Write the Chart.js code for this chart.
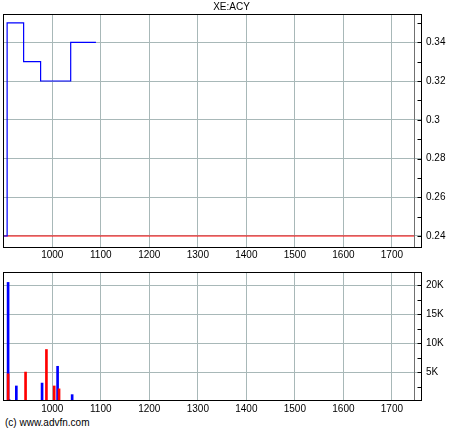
<!DOCTYPE html>
<html>
<head>
<meta charset="utf-8">
<script src="https://cdn.jsdelivr.net/npm/chart.js@4.4.0/dist/chart.umd.min.js"></script>
<style>
  body { margin: 0; background: #fff; width: 460px; height: 430px; position: relative; overflow: hidden; font-family: "Liberation Sans", Arial, sans-serif; }
  #price { position: absolute; left: 0; top: 0; }
  #vol { position: absolute; left: 0; top: 262px; }
  #copy { position: absolute; left: 5px; top: 417px; font-size: 10px; line-height: 12px; color: #000; }
</style>
</head>
<body>
<canvas id="price" width="460" height="262"></canvas>
<canvas id="vol" width="460" height="154"></canvas>
<div id="copy">(c) www.advfn.com</div>
<script>
const title = 'XE:ACY';
const xMin = 898.5, xMax = 1762;
const xTicks = [1000, 1100, 1200, 1300, 1400, 1500, 1600, 1700];
const todayX = 1746;

// price panel
const priceDates = [899, 907, 941, 976, 1038, 1090];
const priceValues = [0.24, 0.35, 0.33, 0.32, 0.34, 0.34];
const refDates = [898.5, 1746];
const refValues = [0.24, 0.24];
const priceTicks = [0.24, 0.26, 0.28, 0.3, 0.32, 0.34];
const priceTickLabels = ['0.24', '0.26', '0.28', '0.3', '0.32', '0.34'];
const priceMinor = [0.25, 0.27, 0.29, 0.31, 0.33, 0.35];

// volume panel
const volBlueDates = [909, 911, 926, 979, 1011, 1041];
const volBlueValues = [20500, 250, 2600, 3100, 6000, 1100];
const volRedDates = [909, 945, 988, 1004, 1014];
const volRedValues = [4700, 5000, 8900, 2600, 2100];
const volTicks = [5000, 10000, 15000, 20000];
const volTickLabels = ['5K', '10K', '15K', '20K'];
const volMinor = [2500, 7500, 12500, 17500];

const gridColor = 'rgb(168,184,184)';
const font = { family: '"Liberation Sans", Arial, sans-serif', size: 10, weight: 'normal' };
Chart.defaults.color = '#000';

const pts = (xs, ys) => xs.map((x, i) => ({ x: x, y: ys[i] }));

const frame = {
  id: 'frame',
  afterDatasetsDraw(chart, args, opts) {
    const { ctx, chartArea: a, scales } = chart;
    const l = Math.round(a.left) + 0.5, r = Math.round(a.right) - 0.5;
    const t = Math.round(a.top) + 0.5, b = Math.round(a.bottom) - 0.5;
    const mx = Math.round(scales.x.getPixelForValue(todayX)) + 0.5;
    ctx.save();
    ctx.lineWidth = 1;
    // today marker
    ctx.strokeStyle = '#707070';
    ctx.beginPath();
    ctx.moveTo(mx, t);
    ctx.lineTo(mx, b);
    ctx.stroke();
    // frame and right-hand ticks
    ctx.strokeStyle = '#000';
    ctx.strokeRect(l, t, r - l, b - t);
    ctx.beginPath();
    (opts.ticks || []).forEach(v => {
      const y = Math.round(scales.y.getPixelForValue(v)) + 0.5;
      ctx.moveTo(r - 4, y);
      ctx.lineTo(r, y);
    });
    ctx.stroke();
    ctx.restore();
  }
};

function xAxis(h, pad) {
  return {
    type: 'linear', min: xMin, max: xMax, offset: false,
    afterBuildTicks: s => { s.ticks = xTicks.map(v => ({ value: v })); },
    afterFit: s => { s.height = h; },
    ticks: { font: font, padding: pad, maxRotation: 0, autoSkip: false, callback: v => String(v) },
    grid: { color: gridColor, drawTicks: false, offset: false },
    border: { display: false }
  };
}

function yAxis(min, max, ticks, labels) {
  return {
    type: 'linear', position: 'right', min: min, max: max,
    afterBuildTicks: s => { s.ticks = ticks.map(v => ({ value: v })); },
    afterFit: s => { s.width = 38; },
    ticks: { font: font, padding: 4, autoSkip: false, callback: v => labels[ticks.indexOf(v)] },
    grid: { color: gridColor, drawTicks: false },
    border: { display: false }
  };
}

new Chart(document.getElementById('price'), {
  type: 'line',
  data: {
    datasets: [
      { data: pts(priceDates, priceValues), borderColor: '#0000ff', borderWidth: 1.2, pointRadius: 0, stepped: 'before' },
      { data: pts(refDates, refValues), borderColor: '#ff0000', borderWidth: 1.2, pointRadius: 0 }
    ]
  },
  options: {
    responsive: false, animation: false, devicePixelRatio: 1,
    layout: { padding: { left: 3, top: 0, right: 0, bottom: 0 } },
    scales: { x: xAxis(14, 1), y: yAxis(0.2338, 0.3546, priceTicks, priceTickLabels) },
    plugins: {
      legend: { display: false }, tooltip: { enabled: false },
      title: { display: true, text: title, font: font, color: '#000', padding: { top: 1, bottom: 1 } },
      frame: { ticks: priceTicks.concat(priceMinor) }
    }
  },
  plugins: [frame]
});

new Chart(document.getElementById('vol'), {
  type: 'bar',
  data: {
    datasets: [
      { data: pts(volRedDates, volRedValues), backgroundColor: '#ff0000', barThickness: 2, grouped: false },
      { data: pts(volBlueDates, volBlueValues), backgroundColor: '#0000ff', barThickness: 2, grouped: false }
    ]
  },
  options: {
    responsive: false, animation: false, devicePixelRatio: 1,
    layout: { padding: { left: 3, top: 1, right: 0, bottom: 0 } },
    scales: { x: xAxis(15, 2), y: yAxis(0, 22300, volTicks, volTickLabels) },
    plugins: {
      legend: { display: false }, tooltip: { enabled: false },
      frame: { ticks: volTicks.concat(volMinor) }
    }
  },
  plugins: [frame]
});
</script>
</body>
</html>
